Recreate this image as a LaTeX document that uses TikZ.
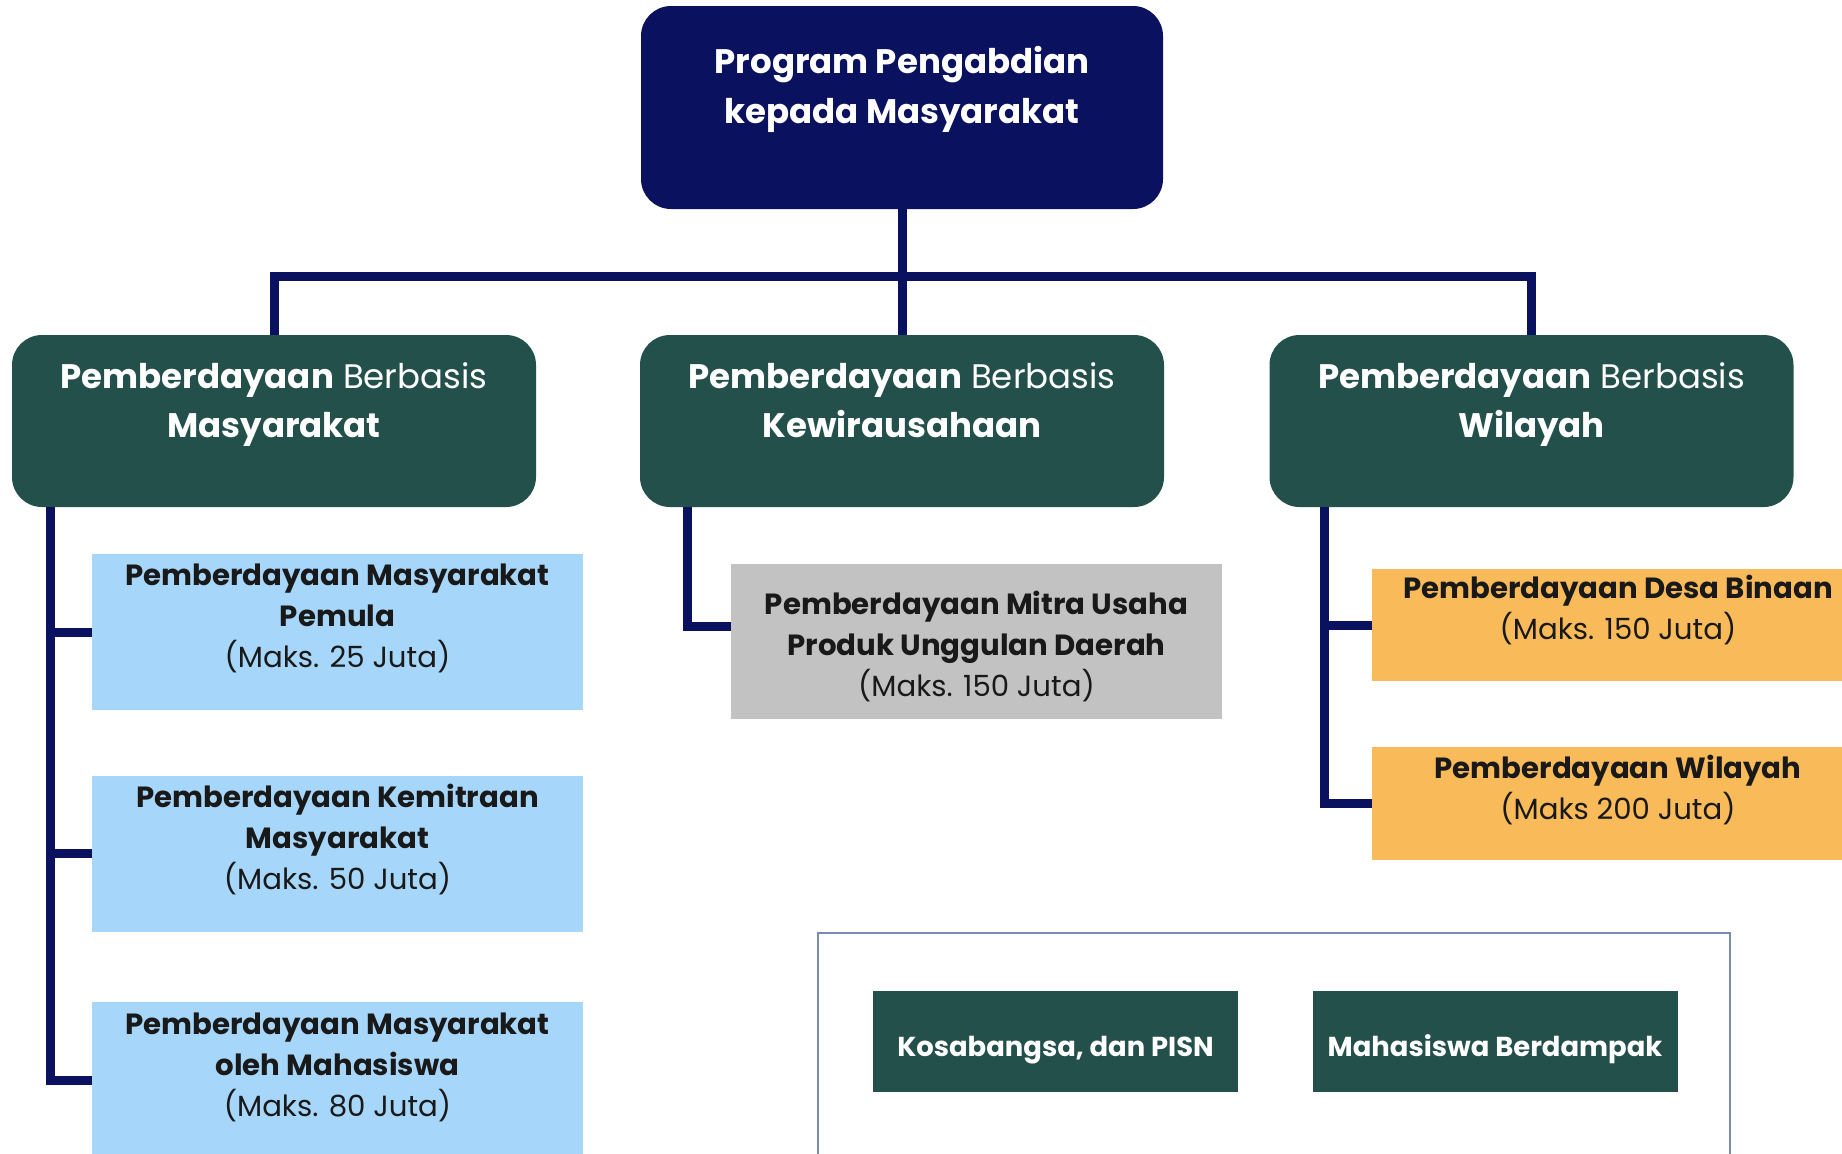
\documentclass[tikz,border=0pt]{standalone}
\usepackage{fontspec}
\setmainfont{Poppins}
\usetikzlibrary{positioning}
\definecolor{pkmnavy}{RGB}{10,17,94}
\definecolor{pkmgreen}{RGB}{36,80,75}
\definecolor{pkmblue}{RGB}{166,214,250}
\definecolor{pkmgray}{RGB}{194,194,194}
\definecolor{pkmorange}{RGB}{249,187,90}
\definecolor{pkmframe}{RGB}{120,140,175}

\begin{document}
\begin{tikzpicture}[x=0.5pt,y=-0.5pt,
    every node/.style={inner sep=0pt,outer sep=0pt},
    topbox/.style={fill=pkmnavy,rounded corners=15pt,minimum width=261pt,minimum height=101.5pt},
    basisbox/.style={fill=pkmgreen,rounded corners=15pt,minimum width=262pt,minimum height=86pt},
    subbox/.style={minimum width=245.5pt,minimum height=78pt},
    progbox/.style={fill=pkmgreen,minimum width=182.5pt,minimum height=50.5pt,text=white,
      text height=15pt,text depth=0pt,font=\fontsize{13.7}{16}\selectfont\bfseries},
    headtxt/.style={text=white,align=center,font=\fontsize{17}{24.5}\selectfont},
    subtxt/.style={text=black!90,align=center,font=\fontsize{14.6}{20.5}\selectfont},
    conn/.style={draw=pkmnavy,line width=4.5pt}]
  \clip (0,0) rectangle (1842,1153);
  \fill[white] (0,0) rectangle (1842,1153);

  \node[topbox] (pkm) at (902,107.5) {};
  \node[headtxt,font=\fontsize{17}{25}\selectfont\bfseries] (pkmtxt) at (902,89.5) {Program Pengabdian\\kepada Masyarakat};

  \node[basisbox] (masy) at (274,421) {};
  \node[basisbox] (kew) at (902,421) {};
  \node[basisbox] (wil) at (1531.5,421) {};
  \node[headtxt] (masytxt) at (274,407) {\textbf{Pemberdayaan} Berbasis\\\textbf{Masyarakat}\strut};
  \node[headtxt] (kewtxt) at (902,407) {\textbf{Pemberdayaan} Berbasis\\\textbf{Kewirausahaan}\strut};
  \node[headtxt] (wiltxt) at (1531.5,407) {\textbf{Pemberdayaan} Berbasis\\\textbf{Wilayah}\strut};

  \draw[conn] (pkm.south) -- ++(0,67) -| (masy.north);
  \draw[conn] (pkm.south) -- ++(0,67) -| (wil.north);
  \draw[conn] (pkm.south) -- (kew.north);

  \node[subbox,fill=pkmblue] (pemula) at (337.5,632) {};
  \node[subbox,fill=pkmblue] (kemitraan) at (337.5,853.5) {};
  \node[subbox,fill=pkmblue] (mahasiswa) at (337.5,1080) {};
  \node[subtxt] (pemulatxt) at (337.5,618.5) {\textbf{Pemberdayaan Masyarakat}\\\textbf{Pemula}\\(Maks. 25 Juta)};
  \node[subtxt] (kemitraantxt) at (337.5,840) {\textbf{Pemberdayaan Kemitraan}\\\textbf{Masyarakat}\\(Maks. 50 Juta)};
  \node[subtxt] (mahasiswatxt) at (337.5,1067.5) {\textbf{Pemberdayaan Masyarakat}\\\textbf{oleh Mahasiswa}\\(Maks. 80 Juta)};

  \node[subbox,fill=pkmgray,minimum height=77.5pt] (mitra) at (976.5,641.5) {};
  \node[subtxt] (mitratxt) at (976.5,646.5) {\textbf{Pemberdayaan Mitra Usaha}\\\textbf{Produk Unggulan Daerah}\\(Maks. 150 Juta)};

  \node[subbox,fill=pkmorange,minimum height=56pt] (desa) at (1617,625) {};
  \node[subbox,fill=pkmorange,minimum height=56.5pt] (wilayah) at (1617,803.5) {};
  \node[subtxt] (desatxt) at (1618,610) {\textbf{Pemberdayaan Desa Binaan}\\(Maks. 150 Juta)};
  \node[subtxt] (wilayahtxt) at (1618,790) {\textbf{Pemberdayaan Wilayah}\\(Maks 200 Juta)};

  \draw[conn] ([xshift=19pt]masy.south west) |- (pemula.west);
  \draw[conn] ([xshift=19pt]masy.south west) |- (kemitraan.west);
  \draw[conn] ([xshift=19pt]masy.south west) |- (mahasiswa.west);
  \draw[conn] ([xshift=23.5pt]kew.south west) |- ([yshift=7.5pt]mitra.west);
  \draw[conn] ([xshift=27.5pt]wil.south west) |- (desa.west);
  \draw[conn] ([xshift=27.5pt]wil.south west) |- (wilayah.west);

  \node[draw=pkmframe,line width=1pt,anchor=north west,minimum width=456pt,minimum height=120pt] (frame) at (818,933) {};
  \node[progbox] (kosa) at (1055.5,1041.5) {Kosabangsa, dan PISN};
  \node[progbox] (berdampak) at (1495,1041.5) {Mahasiswa Berdampak};
\end{tikzpicture}
\end{document}
